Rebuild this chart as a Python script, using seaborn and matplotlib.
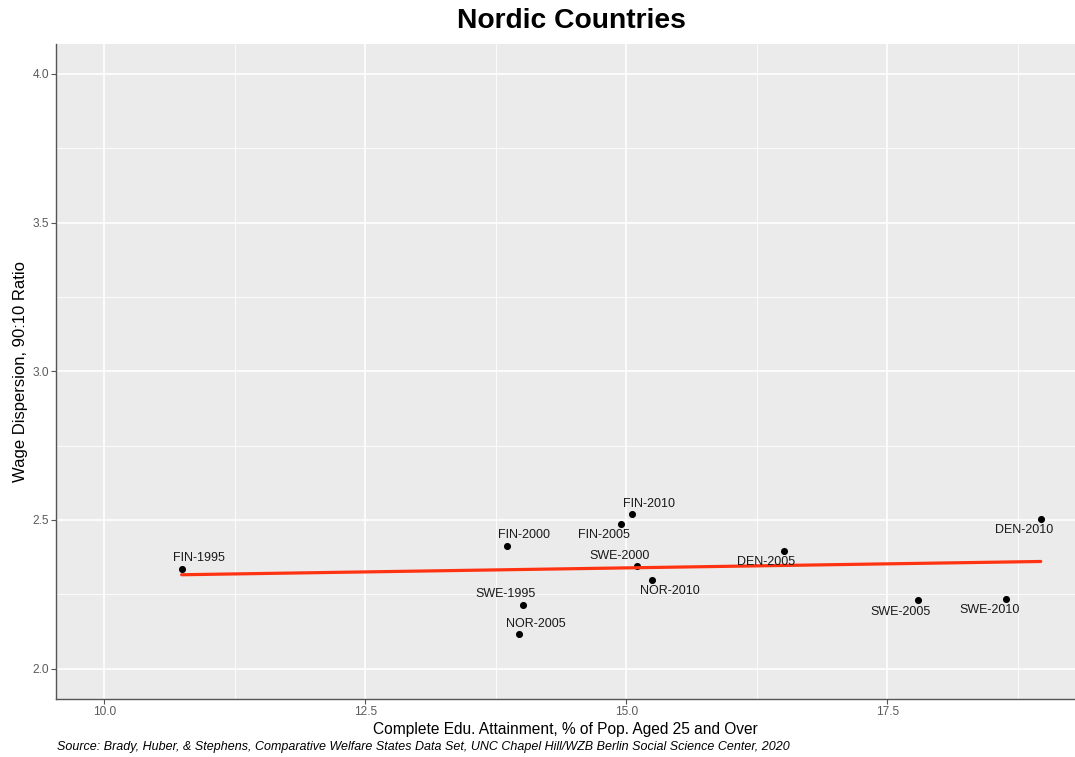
import matplotlib
matplotlib.use("Agg")
import matplotlib.pyplot as plt
import seaborn as sns
import pandas as pd

# values
labels = ["FIN-1995", "FIN-2000", "FIN-2005", "FIN-2010", "SWE-1995", "SWE-2000",
          "SWE-2005", "SWE-2010", "NOR-2005", "NOR-2010", "DEN-2005", "DEN-2010"]
edu = [10.74, 13.86, 14.95, 15.05, 14.01, 15.10, 17.79, 18.64, 13.97, 15.25, 16.51, 18.97]
wage = [2.336, 2.413, 2.488, 2.519, 2.214, 2.346, 2.232, 2.234, 2.117, 2.297, 2.396, 2.503]

df = pd.DataFrame({"label": labels, "edu": edu, "wage": wage})

# label offsets in pixels (dx, dy), dy positive = up
offsets = {
    "FIN-1995": (17, 11), "FIN-2000": (17, 11), "FIN-2005": (-17, -11),
    "FIN-2010": (17, 10), "SWE-1995": (-17, 11), "SWE-2000": (-17, 10),
    "SWE-2005": (-17, -12), "SWE-2010": (-17, -11), "NOR-2005": (17, 10),
    "NOR-2010": (17, -11), "DEN-2005": (-18, -11), "DEN-2010": (-17, -11),
}

sns.set_theme(style="darkgrid")
plt.rcParams["font.family"] = ["Liberation Sans", "DejaVu Sans"]

fig = plt.figure(figsize=(10.75, 7.57), dpi=100)
ax = fig.add_axes([56.4 / 1075, 1 - 698.5 / 757, 1 - 56.4 / 1075, (698.5 - 44) / 757])
ax.set_facecolor("#EBEBEB")

sns.regplot(data=df, x="edu", y="wage", ax=ax, ci=None, truncate=True,
            scatter_kws={"color": "black", "s": 26, "linewidths": 0, "zorder": 3, "alpha": 1},
            line_kws={"color": "#FF3311", "lw": 2.3, "zorder": 4})

for lab, x, y in zip(df["label"], df["edu"], df["wage"]):
    dx, dy = offsets[lab]
    ax.annotate(lab, (x, y), xytext=(dx * 0.72, dy * 0.72), textcoords="offset points",
                ha="center", va="center", fontsize=9, color="#1a1a1a", zorder=5)

ax.set_xlim(9.54, 19.298)
ax.set_ylim(1.9, 4.1)
ax.set_xticks([10.0, 12.5, 15.0, 17.5])
ax.set_xticklabels(["10.0", "12.5", "15.0", "17.5"])
ax.set_yticks([2.0, 2.5, 3.0, 3.5, 4.0])
ax.set_yticklabels(["2.0", "2.5", "3.0", "3.5", "4.0"])
ax.set_xticks([11.25, 13.75, 16.25, 18.75], minor=True)
ax.set_yticks([2.25, 2.75, 3.25, 3.75], minor=True)
ax.grid(which="major", color="white", lw=1.2)
ax.grid(which="minor", color="white", lw=0.6)
ax.set_axisbelow(True)

for s in ["top", "right"]:
    ax.spines[s].set_visible(False)
for s in ["left", "bottom"]:
    ax.spines[s].set_visible(True)
    ax.spines[s].set_color("#555555")
    ax.spines[s].set_linewidth(1.0)

ax.tick_params(axis="both", which="major", length=3.5, width=0.8, color="#555555",
               labelsize=8.6, labelcolor="#5a5a5a", pad=2, bottom=True, left=True)
ax.tick_params(which="minor", length=0)

ax.set_xlabel("Complete Edu. Attainment, % of Pop. Aged 25 and Over", fontsize=11.2,
              color="black", labelpad=3)
ax.set_ylabel("Wage Dispersion, 90:10 Ratio", fontsize=12, color="black", labelpad=3)

fig.text(571 / 1075, 1 - 21 / 757, "Nordic Countries", ha="center", va="center",
         fontsize=20.3, fontweight="bold", color="black")
fig.text(57 / 1075, 1 - 747 / 757,
         "Source: Brady, Huber, & Stephens, Comparative Welfare States Data Set, "
         "UNC Chapel Hill/WZB Berlin Social Science Center, 2020",
         ha="left", va="center", fontsize=9, style="italic", color="black")

fig.savefig("out.png", dpi=100)
